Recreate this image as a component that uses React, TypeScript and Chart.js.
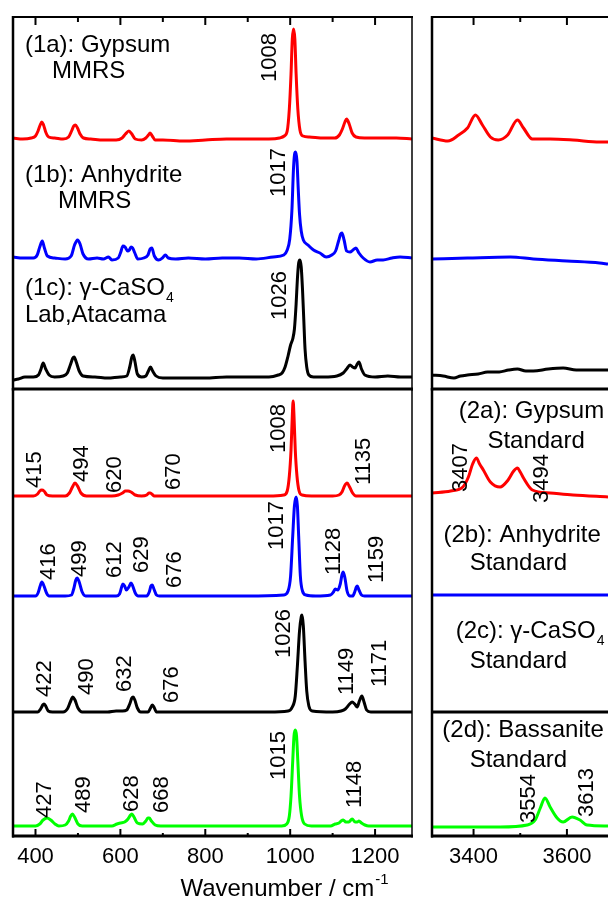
import React, { useEffect, useRef } from "react";
import { Chart, registerables } from "chart.js";

Chart.register(...registerables);

type Pt = [number, number];

// ---------------- axes ----------------
const lowRange: Pt = [347, 1287];
const highRange: Pt = [3311, 3688];
const topPanelRange: Pt = [0, 372];
const bottomPanelRange: Pt = [0, 447];
const lowTicks = [400, 500, 600, 700, 800, 900, 1000, 1100, 1200];
const lowTickLabels = [400, 600, 800, 1000, 1200];
const highTicks = [3400, 3500, 3600];
const highTickLabels = [3400, 3600];
const xAxisTitle = "Wavenumber / cm";
const xAxisTitleSup = "-1";

// ---------------- (1) MMRS / lab spectra, 350-1290 cm-1 ----------------
const gypsumMMRS_low: Pt[] = [
  [347, 251], [370, 250], [390, 251], [400, 253], [406, 258], [411, 264], [415, 267], [419, 264], [424, 257], [431, 252],
  [445, 251], [465, 250], [478, 252], [485, 258], [490, 263], [494, 264], [499, 261], [505, 255], [513, 251], [530, 250],
  [560, 249], [590, 249], [604, 251], [612, 255], [620, 258], [627, 255], [635, 250], [650, 249], [660, 251], [666, 254],
  [670, 256], [675, 253], [682, 249], [700, 249], [750, 248], [800, 249], [850, 250], [900, 250], [950, 250], [975, 251],
  [986, 253], [993, 258], [998, 280], [1002, 315], [1005, 350], [1008, 360], [1011, 350], [1014, 315], [1018, 280], [1023, 259],
  [1030, 253], [1045, 252], [1080, 251], [1105, 251], [1116, 254], [1123, 260], [1129, 267], [1133, 270], [1139, 265], [1146, 256],
  [1155, 252], [1175, 251], [1210, 251], [1250, 251], [1287, 250],
];
const anhydriteMMRS_low: Pt[] = [
  [347, 132], [370, 131], [395, 131], [404, 134], [410, 142], [416, 148], [421, 141], [428, 133], [445, 131], [470, 130],
  [484, 133], [492, 144], [499, 149], [505, 145], [512, 135], [525, 130], [545, 131], [560, 130], [572, 132], [580, 129],
  [595, 131], [601, 137], [606, 143], [611, 142], [617, 138], [621, 139], [625, 142], [629, 141], [634, 136], [641, 130],
  [655, 131], [665, 134], [670, 140], [674, 141], [680, 133], [690, 129], [699, 131], [706, 134], [713, 131], [730, 130],
  [760, 131], [800, 130], [840, 131], [880, 131], [920, 130], [960, 132], [985, 134], [993, 139], [999, 150], [1004, 178],
  [1008, 222], [1011, 236], [1013, 237], [1016, 228], [1019, 200], [1022, 175], [1026, 158], [1031, 149], [1042, 144], [1055, 139],
  [1070, 136], [1085, 132], [1098, 134], [1107, 138], [1114, 148], [1119, 155], [1122, 156], [1127, 149], [1133, 138], [1141, 137],
  [1148, 139], [1155, 141], [1162, 136], [1172, 131], [1188, 127], [1205, 129], [1219, 129], [1240, 131], [1259, 132], [1287, 131],
];
const gammaLab_low: Pt[] = [
  [347, 9], [360, 10], [375, 12], [395, 12], [407, 14], [413, 20], [418, 26], [424, 20], [432, 14], [445, 12],
  [465, 13], [475, 16], [482, 24], [488, 31], [491, 32], [496, 27], [503, 18], [512, 13], [540, 12], [570, 11],
  [600, 12], [615, 13], [622, 22], [627, 32], [630, 34], [634, 28], [640, 15], [650, 12], [660, 13], [666, 18],
  [671, 22], [676, 18], [684, 13], [700, 11], [750, 11], [800, 11], [850, 12], [900, 12], [950, 12], [972, 14],
  [981, 16], [988, 22], [995, 33], [1001, 44], [1006, 50], [1010, 60], [1014, 85], [1017, 110], [1020, 126], [1023, 129],
  [1026, 122], [1029, 100], [1032, 70], [1035, 40], [1039, 22], [1044, 14], [1055, 12], [1080, 12], [1110, 13], [1125, 16],
  [1133, 20], [1141, 24], [1147, 22], [1153, 21], [1158, 25], [1162, 27], [1168, 20], [1176, 14], [1200, 12], [1230, 13],
  [1260, 12], [1287, 12],
];

// ---------------- (1) MMRS / lab spectra, 3310-3690 cm-1 ----------------
const gypsumMMRS_high: Pt[] = [
  [3311, 251], [3345, 248], [3368, 254], [3387, 261], [3404, 274], [3419, 264], [3436, 252], [3453, 249],
  [3473, 254], [3494, 269], [3507, 261], [3526, 250], [3564, 250], [3613, 249], [3670, 247], [3688, 247],
];
const anhydriteMMRS_high: Pt[] = [
  [3311, 130], [3387, 131], [3479, 132], [3528, 130], [3600, 128], [3670, 126], [3688, 125],
];
const gammaLab_high: Pt[] = [
  [3311, 14], [3335, 13], [3358, 11], [3372, 13], [3387, 14], [3410, 15], [3430, 17], [3455, 17], [3475, 19],
  [3494, 20], [3512, 18], [3528, 18], [3560, 20], [3592, 21], [3620, 19], [3643, 19], [3688, 19],
];

// ---------------- (2) standards, 350-1290 cm-1 ----------------
const gypsumStd_low: Pt[] = [
  [347, 340], [395, 340], [405, 342], [410, 345], [415, 346], [420, 345], [427, 341], [440, 340], [470, 340], [480, 343],
  [487, 349], [493, 353], [499, 350], [507, 343], [520, 340], [580, 340], [595, 341], [605, 343], [612, 345], [618, 345],
  [625, 344], [635, 341], [650, 340], [662, 341], [667, 343], [670, 343], [674, 342], [680, 340], [750, 340], [850, 340],
  [950, 340], [985, 341], [993, 345], [998, 360], [1002, 386], [1005, 420], [1007, 435], [1009, 420], [1012, 386], [1016, 360],
  [1021, 345], [1028, 341], [1050, 340], [1100, 340], [1115, 341], [1122, 344], [1128, 350], [1134, 353], [1140, 349], [1147, 343],
  [1155, 340], [1200, 340], [1287, 340],
];
const anhydriteStd_low: Pt[] = [
  [347, 240], [400, 240], [406, 243], [411, 250], [415, 254], [420, 250], [426, 243], [432, 240], [470, 240], [485, 241],
  [490, 247], [495, 256], [498, 258], [503, 254], [510, 244], [518, 240], [590, 240], [598, 242], [603, 249], [606, 252],
  [610, 250], [614, 246], [620, 249], [625, 253], [629, 250], [635, 243], [642, 240], [662, 240], [668, 244], [672, 250],
  [675, 251], [679, 247], [685, 241], [692, 240], [800, 240], [900, 240], [985, 241], [995, 245], [1001, 260], [1006, 300],
  [1010, 330], [1014, 339], [1017, 330], [1020, 300], [1024, 260], [1029, 245], [1037, 241], [1060, 240], [1095, 241], [1102, 244],
  [1106, 247], [1112, 246], [1118, 252], [1122, 261], [1125, 264], [1129, 258], [1134, 245], [1140, 240], [1147, 240], [1152, 244],
  [1156, 249], [1158, 250], [1162, 246], [1168, 241], [1175, 240], [1287, 240],
];
const gammaStd_low: Pt[] = [
  [347, 124], [405, 124], [412, 127], [417, 131], [420, 132], [424, 130], [430, 125], [440, 124], [465, 124], [475, 127],
  [482, 134], [488, 139], [493, 136], [500, 128], [510, 124], [570, 124], [590, 125], [605, 125], [615, 126], [622, 132],
  [627, 138], [630, 139], [634, 136], [640, 128], [648, 124], [665, 124], [671, 128], [675, 131], [679, 129], [685, 124],
  [750, 124], [850, 124], [950, 124], [995, 125], [1005, 129], [1012, 140], [1017, 170], [1022, 205], [1026, 219], [1028, 221],
  [1031, 210], [1035, 175], [1039, 145], [1044, 130], [1052, 125], [1100, 124], [1120, 125], [1130, 127], [1140, 132], [1146, 134],
  [1152, 132], [1158, 129], [1163, 135], [1169, 140], [1174, 134], [1180, 126], [1190, 124], [1287, 124],
];
const bassaniteStd_low: Pt[] = [
  [347, 10], [400, 10], [410, 12], [418, 16], [427, 18], [436, 16], [446, 12], [455, 10], [470, 11], [478, 15],
  [483, 20], [487, 22], [492, 19], [500, 12], [510, 10], [580, 10], [592, 12], [600, 13], [610, 14], [618, 17],
  [624, 21], [627, 22], [632, 19], [640, 13], [652, 12], [660, 15], [665, 18], [668, 18], [673, 15], [682, 11],
  [695, 10], [800, 10], [900, 10], [980, 10], [992, 12], [998, 20], [1002, 40], [1006, 75], [1009, 100], [1012, 106],
  [1015, 100], [1018, 75], [1022, 40], [1027, 20], [1034, 12], [1050, 10], [1095, 10], [1106, 12], [1115, 13], [1120, 15],
  [1125, 16], [1131, 14], [1138, 14], [1146, 17], [1153, 14], [1158, 14], [1162, 15], [1168, 13], [1176, 11], [1185, 10],
  [1287, 10],
];

// ---------------- (2) standards, 3310-3690 cm-1 ----------------
const gypsumStd_high: Pt[] = [
  [3311, 343], [3351, 345], [3377, 349], [3389, 359], [3398, 372], [3406, 378], [3413, 372], [3421, 366], [3436, 354],
  [3457, 349], [3474, 356], [3486, 365], [3494, 368], [3500, 364], [3507, 358], [3526, 346], [3564, 343], [3613, 341], [3688, 339],
];
const anhydriteStd_high: Pt[] = [[3311, 241], [3450, 241], [3600, 241], [3688, 241]];
const gammaStd_high: Pt[] = [[3311, 124], [3450, 124], [3600, 124], [3688, 124]];
const bassaniteStd_high: Pt[] = [
  [3311, 9], [3457, 9], [3515, 11], [3532, 16], [3543, 28], [3553, 38], [3564, 29], [3579, 18], [3592, 14],
  [3611, 19], [3628, 16], [3643, 11], [3688, 10],
];

// ---------------- peak labels: [text, wavenumber, intensity at text start] ----------------
const peakLabelsTopLow: [string, number, number][] = [
  ["1008", 948, 307], ["1017", 969, 192], ["1026", 971, 69],
];
const peakLabelsBottomLow: [string, number, number][] = [
  ["415", 394, 348], ["494", 505, 354], ["620", 583, 343], ["670", 722, 346], ["1008", 969, 383], ["1135", 1169, 351],
  ["416", 427, 256], ["499", 500, 259], ["612", 583, 258], ["629", 646, 263], ["676", 724, 248], ["1017", 964, 286],
  ["1128", 1099, 261], ["1159", 1200, 253],
  ["422", 418, 139], ["490", 517, 141], ["632", 606, 144], ["676", 717, 133], ["1026", 981, 178], ["1149", 1129, 141],
  ["1171", 1207, 149],
  ["427", 418, 18], ["489", 510, 23], ["628", 623, 24], ["668", 693, 23], ["1015", 969, 56], ["1148", 1148, 28],
];
const peakLabelsBottomHigh: [string, number, number][] = [
  ["3407", 3369, 344], ["3494", 3543, 333], ["3554", 3515, 13], ["3613", 3639, 19],
];

// ---------------- sample names ----------------
type Note = { text: string; sub?: string; x: number; y: number; align: "left" | "center" };
const notesTopLow: Note[] = [
  { text: "(1a): Gypsum", x: 375, y: 337, align: "left" },
  { text: "MMRS", x: 439, y: 311, align: "left" },
  { text: "(1b): Anhydrite", x: 375, y: 207, align: "left" },
  { text: "MMRS", x: 453, y: 181, align: "left" },
  { text: "(1c): \u03b3-CaSO", sub: "4", x: 375, y: 94, align: "left" },
  { text: "Lab,Atacama", x: 375, y: 67, align: "left" },
];
const notesBottomHigh: Note[] = [
  { text: "(2a): Gypsum", x: 3524, y: 418, align: "center" },
  { text: "Standard", x: 3534, y: 388, align: "center" },
  { text: "(2b): Anhydrite", x: 3504, y: 294, align: "center" },
  { text: "Standard", x: 3496, y: 266, align: "center" },
  { text: "(2c): \u03b3-CaSO", sub: "4", x: 3521, y: 198, align: "center" },
  { text: "Standard", x: 3496, y: 168, align: "center" },
  { text: "(2d): Bassanite", x: 3506, y: 99, align: "center" },
  { text: "Standard", x: 3496, y: 69, align: "center" },
];

// ---------------- layout ----------------
const W = 608;
const H = 898;
const FONT = '"Liberation Sans", Arial, Helvetica, sans-serif';
const RED = "#ff0000";
const BLUE = "#0000ff";
const BLACK = "#000000";
const GREEN = "#00ff00";
const NOTE_SIZE = 24;
const PEAK_SIZE = 22;

type Side = "left" | "right" | "top" | "bottom";
interface PanelSpec {
  id: string;
  box: { l: number; t: number; r: number; b: number };
  xRange: Pt;
  yRange: Pt;
  series: { data: Pt[]; color: string }[];
  borders: [Side, number][];
  ticks: number[];
  tickSide: "top" | "bottom";
  tickLabels?: number[];
  peaks: [string, number, number][];
  notes: Note[];
  title?: boolean;
}

const panels: PanelSpec[] = [
  {
    id: "tl",
    box: { l: 13, t: 17, r: 412, b: 389 },
    xRange: lowRange,
    yRange: topPanelRange,
    series: [
      { data: gypsumMMRS_low, color: RED },
      { data: anhydriteMMRS_low, color: BLUE },
      { data: gammaLab_low, color: BLACK },
    ],
    borders: [["left", 2.5], ["top", 2], ["right", 1.5], ["bottom", 3]],
    ticks: lowTicks,
    tickSide: "top",
    peaks: peakLabelsTopLow,
    notes: notesTopLow,
  },
  {
    id: "bl",
    box: { l: 13, t: 389, r: 412, b: 836 },
    xRange: lowRange,
    yRange: bottomPanelRange,
    series: [
      { data: gypsumStd_low, color: RED },
      { data: anhydriteStd_low, color: BLUE },
      { data: gammaStd_low, color: BLACK },
      { data: bassaniteStd_low, color: GREEN },
    ],
    borders: [["left", 2.5], ["right", 1.5], ["bottom", 3]],
    ticks: lowTicks,
    tickSide: "bottom",
    tickLabels: lowTickLabels,
    peaks: peakLabelsBottomLow,
    notes: [],
    title: true,
  },
  {
    id: "tr",
    box: { l: 432, t: 17, r: 608, b: 389 },
    xRange: highRange,
    yRange: topPanelRange,
    series: [
      { data: gypsumMMRS_high, color: RED },
      { data: anhydriteMMRS_high, color: BLUE },
      { data: gammaLab_high, color: BLACK },
    ],
    borders: [["left", 2.5], ["top", 2], ["bottom", 3]],
    ticks: highTicks,
    tickSide: "top",
    peaks: [],
    notes: [],
  },
  {
    id: "br",
    box: { l: 432, t: 389, r: 608, b: 836 },
    xRange: highRange,
    yRange: bottomPanelRange,
    series: [
      { data: gypsumStd_high, color: RED },
      { data: anhydriteStd_high, color: BLUE },
      { data: gammaStd_high, color: BLACK },
      { data: bassaniteStd_high, color: GREEN },
    ],
    borders: [["left", 2.5], ["bottom", 3]],
    ticks: highTicks,
    tickSide: "bottom",
    tickLabels: highTickLabels,
    peaks: peakLabelsBottomHigh,
    notes: notesBottomHigh,
  },
];

function makeDeco(p: PanelSpec) {
  return {
    id: "deco_" + p.id,
    afterDraw(chart: any) {
      const ctx: CanvasRenderingContext2D = chart.ctx;
      const a = chart.chartArea;
      const xs = chart.scales.x;
      const ys = chart.scales.y;
      ctx.save();
      ctx.strokeStyle = "#000";
      ctx.fillStyle = "#000";
      ctx.lineCap = "butt";
      const line = (x1: number, y1: number, x2: number, y2: number, w: number) => {
        ctx.lineWidth = w;
        ctx.beginPath();
        ctx.moveTo(x1, y1);
        ctx.lineTo(x2, y2);
        ctx.stroke();
      };
      for (const [side, w] of p.borders) {
        if (side === "left") line(a.left, a.top - 1, a.left, a.bottom + 1.5, w);
        if (side === "right") line(a.right, a.top - 1, a.right, a.bottom + 1.5, w);
        if (side === "top") line(a.left - 1, a.top, a.right + 1, a.top, w);
        if (side === "bottom") line(a.left - 1, a.bottom, a.right + 1, a.bottom, w);
      }
      // inward ticks
      for (const v of p.ticks) {
        const px = xs.getPixelForValue(v);
        const major = v % 200 === 0;
        if (p.tickSide === "top") {
          line(px, a.top, px, a.top + (major ? 8 : 5), 2);
        } else {
          line(px, a.bottom, px, a.bottom - (major ? 7 : 3), 2);
        }
      }
      // tick labels
      if (p.tickLabels) {
        ctx.font = `22px ${FONT}`;
        ctx.textAlign = "center";
        ctx.textBaseline = "alphabetic";
        for (const v of p.tickLabels) {
          ctx.fillText(String(v), xs.getPixelForValue(v), a.bottom + 27);
        }
      }
      // rotated peak labels
      ctx.font = `${PEAK_SIZE}px ${FONT}`;
      ctx.textAlign = "left";
      ctx.textBaseline = "alphabetic";
      for (const [t, wx, wy] of p.peaks) {
        const px = xs.getPixelForValue(wx);
        const py = ys.getPixelForValue(wy);
        ctx.save();
        ctx.translate(px, py);
        ctx.rotate(-Math.PI / 2);
        ctx.fillText(t, 0, PEAK_SIZE * 0.358);
        ctx.restore();
      }
      // sample names
      for (const n of p.notes) {
        const px = xs.getPixelForValue(n.x);
        const py = ys.getPixelForValue(n.y);
        ctx.font = `${NOTE_SIZE}px ${FONT}`;
        const mw = ctx.measureText(n.text).width;
        let sw = 0;
        if (n.sub) {
          ctx.font = `14px ${FONT}`;
          sw = ctx.measureText(n.sub).width + 1;
        }
        const x0 = n.align === "center" ? px - (mw + sw) / 2 : px;
        ctx.font = `${NOTE_SIZE}px ${FONT}`;
        ctx.textAlign = "left";
        ctx.fillText(n.text, x0, py);
        if (n.sub) {
          ctx.font = `14px ${FONT}`;
          ctx.fillText(n.sub, x0 + mw + 1, py + 7);
        }
      }
      // x-axis title
      if (p.title) {
        ctx.font = `24px ${FONT}`;
        const tw = ctx.measureText(xAxisTitle).width;
        ctx.font = `15px ${FONT}`;
        const sw = ctx.measureText(xAxisTitleSup).width;
        const cx = 284;
        const x0 = cx - (tw + sw) / 2;
        ctx.textAlign = "left";
        ctx.font = `24px ${FONT}`;
        ctx.fillText(xAxisTitle, x0, a.bottom + 60);
        ctx.font = `15px ${FONT}`;
        ctx.fillText(xAxisTitleSup, x0 + tw + 1, a.bottom + 48);
      }
      ctx.restore();
    },
  };
}

export default function App() {
  const refs = [useRef<HTMLCanvasElement>(null), useRef<HTMLCanvasElement>(null), useRef<HTMLCanvasElement>(null), useRef<HTMLCanvasElement>(null)];

  useEffect(() => {
    const charts: Chart[] = [];
    panels.forEach((p, i) => {
      const cv = refs[i].current;
      if (!cv) return;
      const chart = new Chart(cv, {
        type: "line",
        data: {
          datasets: p.series.map((s) => ({
            data: s.data.map(([x, y]) => ({ x, y })),
            borderColor: s.color,
            backgroundColor: s.color,
            borderWidth: 3,
            pointRadius: 0,
            fill: false,
            cubicInterpolationMode: "monotone" as const,
          })),
        },
        options: {
          animation: false,
          responsive: false,
          maintainAspectRatio: false,
          devicePixelRatio: 1,
          events: [],
          layout: {
            autoPadding: false,
            padding: { left: p.box.l, top: p.box.t, right: W - p.box.r, bottom: H - p.box.b },
          },
          plugins: { legend: { display: false }, tooltip: { enabled: false }, title: { display: false } },
          scales: {
            x: { type: "linear", min: p.xRange[0], max: p.xRange[1], display: false },
            y: { type: "linear", min: p.yRange[0], max: p.yRange[1], display: false },
          },
        },
        plugins: [makeDeco(p)],
      });
      charts.push(chart);
    });
    return () => charts.forEach((c) => c.destroy());
  }, []);

  return (
    <div style={{ position: "fixed", left: 0, top: 0, width: W, height: H, overflow: "hidden", background: "#fff" }}>
      {panels.map((p, i) => (
        <canvas
          key={p.id}
          ref={refs[i]}
          width={W}
          height={H}
          style={{ position: "absolute", left: 0, top: 0, width: W, height: H }}
        />
      ))}
    </div>
  );
}
